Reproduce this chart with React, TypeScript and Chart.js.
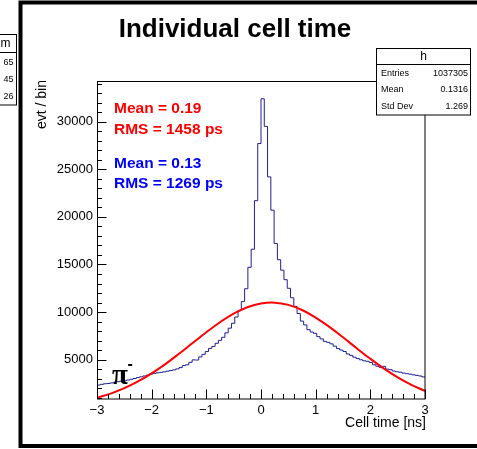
import React, { useEffect, useRef } from 'react';
import { Chart, registerables } from 'chart.js';

Chart.register(...registerables);

// ---- data ----
const binLow = -3;
const binWidth = 0.06;
const histCounts = [
  2330, 2410, 2470, 2500, 2560, 2630, 2690, 2740, 2790, 2860,
  2940, 3020, 3120, 3200, 3290, 3380, 3480, 3560, 3620, 3660,
  3720, 3790, 3860, 3930, 4030, 4170, 4380, 4460, 4720, 4980,
  4960, 5290, 5560, 5850, 6180, 6390, 6720, 7030, 7350, 7820,
  8310, 8820, 9480, 10150, 11100, 12450, 14700, 16600, 21700, 27700,
  32400, 29500, 24200, 20700, 17200, 15500, 14400, 13400, 12500, 11500,
  10600, 9850, 9050, 8650, 8150, 7900, 7760, 7420, 7180, 6920,
  6820, 6660, 6420, 6170, 6010, 5860, 5600, 5450, 5260, 5120,
  4990, 4880, 4830, 4710, 4460, 4310, 4190, 4300, 4010, 3950,
  3810, 3730, 3680, 3590, 3530, 3480, 3410, 3350, 3290, 3190,
];
const fitX = [
  -3, -2.75, -2.5, -2.25, -2, -1.75, -1.5, -1.25, -1, -0.75, -0.5, -0.25,
  0, 0.25, 0.5, 0.75, 1, 1.25, 1.5, 1.75, 2, 2.25, 2.5, 2.75, 3,
];
const fitY = [
  1004, 1440, 2005, 2711, 3561, 4539, 5619, 6754, 7884, 8935, 9834, 10511,
  10907, 10991, 10754, 10218, 9427, 8446, 7347, 6206, 5091, 4055, 3135, 2355, 1717,
];
const xTicks = [-3, -2, -1, 0, 1, 2, 3];
const yTicks = [5000, 10000, 15000, 20000, 25000, 30000];
const xRange = [-3, 3];
const yRange = [870, 34270];
const xMinorStep = 0.2;
const yMinorStep = 1000;
const titleText = 'Individual cell time';
const xTitle = 'Cell time [ns]';
const yTitle = 'evt / bin';
const statsName = 'h';
const statsLabels = ['Entries', 'Mean', 'Std Dev'];
const statsValues = ['1037305', '0.1316', '1.269'];
const redLines = ['Mean = 0.19', 'RMS = 1458 ps'];
const blueLines = ['Mean = 0.13', 'RMS = 1269 ps'];
const sideHeader = 'm';
const sideValues = ['65', '45', '26'];

const SANS = '"Liberation Sans", Arial, Helvetica, sans-serif';

const decor = {
  id: 'decor',
  afterDraw(chart: any) {
    const { ctx, chartArea: a, scales } = chart;
    const x = scales.x;
    const y = scales.y;
    ctx.save();

    // outer thick pad frame
    ctx.strokeStyle = '#000';
    ctx.lineWidth = 4;
    ctx.strokeRect(20.5, 2.5, 480, 443.5);

    // left neighbouring stats box (cut)
    ctx.lineWidth = 1;
    ctx.fillStyle = '#fff';
    ctx.fillRect(-5, 34.5, 21.5, 70.5);
    ctx.strokeRect(-5, 34.5, 21.5, 70.5);
    ctx.beginPath();
    ctx.moveTo(-5, 52.5);
    ctx.lineTo(16.5, 52.5);
    ctx.stroke();
    ctx.fillStyle = '#000';
    ctx.textBaseline = 'middle';
    ctx.textAlign = 'right';
    ctx.font = `12px ${SANS}`;
    ctx.fillText(sideHeader, 10.5, 43.5);
    ctx.font = `9px ${SANS}`;
    sideValues.forEach((s, i) => ctx.fillText(s, 13.5, 63 + i * 16.8));

    // plot frame
    ctx.lineWidth = 1;
    ctx.strokeStyle = '#000';
    ctx.strokeRect(Math.round(a.left) + 0.5, Math.round(a.top) + 0.5,
      Math.round(a.right - a.left) - 0.5, Math.round(a.bottom - a.top) - 0.5);

    // ticks (ROOT style, inside)
    ctx.beginPath();
    const nx = Math.round((xRange[1] - xRange[0]) / xMinorStep);
    for (let k = 0; k <= nx; k++) {
      const v = xRange[0] + k * xMinorStep;
      const px = Math.round(x.getPixelForValue(v)) + 0.5;
      const major = Math.abs(v - Math.round(v)) < 1e-6;
      const len = major ? 9.5 : 5;
      ctx.moveTo(px, a.bottom);
      ctx.lineTo(px, a.bottom - len);
    }
    for (let v = yMinorStep; v <= yRange[1]; v += yMinorStep) {
      if (v < yRange[0]) continue;
      const py = Math.round(y.getPixelForValue(v)) + 0.5;
      const major = v % 5000 === 0;
      const len = major ? 9.5 : 5;
      ctx.moveTo(a.left, py);
      ctx.lineTo(a.left + len, py);
    }
    ctx.stroke();

    // title
    ctx.fillStyle = '#000';
    ctx.textAlign = 'center';
    ctx.textBaseline = 'alphabetic';
    ctx.font = `bold 26px ${SANS}`;
    ctx.fillText(titleText, 235, 37);

    // axis titles
    ctx.font = `14px ${SANS}`;
    ctx.textAlign = 'right';
    ctx.fillText(xTitle, 426, 427);
    ctx.save();
    ctx.translate(46, 80);
    ctx.rotate(-Math.PI / 2);
    ctx.textAlign = 'right';
    ctx.fillText(yTitle, 0, 0);
    ctx.restore();

    // annotations
    ctx.textAlign = 'left';
    ctx.font = `bold 15.5px ${SANS}`;
    ctx.fillStyle = '#ff0000';
    ctx.fillText(redLines[0], 114, 113);
    ctx.fillText(redLines[1], 114, 133.5);
    ctx.fillStyle = '#0000ff';
    ctx.fillText(blueLines[0], 114, 168);
    ctx.fillText(blueLines[1], 114, 187.5);

    // pi-
    ctx.fillStyle = '#000';
    ctx.font = `bold 29px "Liberation Serif", "DejaVu Serif", serif`;
    ctx.fillText('\u03c0', 112, 384);
    ctx.font = `bold 16px ${SANS}`;
    ctx.fillText('-', 127.5, 368.5);

    // stats box
    const bx = 376.5, by = 48.5, bw = 94, bh = 66.5;
    ctx.fillStyle = '#fff';
    ctx.fillRect(bx, by, bw, bh);
    ctx.strokeStyle = '#000';
    ctx.lineWidth = 1;
    ctx.strokeRect(bx, by, bw, bh);
    ctx.beginPath();
    ctx.moveTo(bx, 64.5);
    ctx.lineTo(bx + bw, 64.5);
    ctx.stroke();
    ctx.fillStyle = '#000';
    ctx.textBaseline = 'middle';
    ctx.textAlign = 'center';
    ctx.font = `12px ${SANS}`;
    ctx.fillText(statsName, bx + bw / 2, 56.5);
    ctx.font = `9px ${SANS}`;
    statsLabels.forEach((lab, i) => {
      const yy = 73.3 + i * 16.5;
      ctx.textAlign = 'left';
      ctx.fillText(lab, 381, yy);
      ctx.textAlign = 'right';
      ctx.fillText(statsValues[i], 468, yy);
    });

    ctx.restore();
  },
};

const fmt = (v: number) => (v < 0 ? '\u2212' + Math.abs(v) : String(v));

export default function App() {
  const ref = useRef<HTMLCanvasElement | null>(null);

  useEffect(() => {
    if (!ref.current) return;
    const histPoints = histCounts.map((c, i) => ({ x: binLow + i * binWidth, y: c }));
    histPoints.push({ x: binLow + histCounts.length * binWidth, y: histCounts[histCounts.length - 1] });
    const fitPoints = fitX.map((v, i) => ({ x: v, y: fitY[i] }));

    const chart = new Chart(ref.current, {
      type: 'line',
      data: {
        datasets: [
          {
            data: fitPoints,
            borderColor: '#ff0000',
            borderWidth: 2,
            pointRadius: 0,
            tension: 0.4,
            fill: false,
            order: 0,
          },
          {
            data: histPoints,
            borderColor: '#1f1f96',
            borderWidth: 1,
            pointRadius: 0,
            stepped: true,
            fill: false,
            order: 1,
          },
        ],
      },
      options: {
        responsive: false,
        animation: false,
        events: [],
        layout: { padding: { top: 81, right: 52, left: 0, bottom: 0 } },
        plugins: { legend: { display: false }, tooltip: { enabled: false }, title: { display: false } },
        scales: {
          x: {
            type: 'linear',
            min: xRange[0],
            max: xRange[1],
            grid: { display: false, drawTicks: false },
            border: { display: false },
            ticks: {
              color: '#000',
              font: { family: SANS, size: 13 },
              padding: 4,
              maxRotation: 0,
              autoSkip: false,
              callback: (v: any) => fmt(Number(v)),
            },
            afterBuildTicks: (s: any) => { s.ticks = xTicks.map((v) => ({ value: v })); },
            afterFit: (s: any) => { s.height = 50; },
          },
          y: {
            type: 'linear',
            min: yRange[0],
            max: yRange[1],
            grid: { display: false, drawTicks: false },
            border: { display: false },
            ticks: {
              color: '#000',
              font: { family: SANS, size: 13 },
              padding: 4,
              autoSkip: false,
              callback: (v: any) => String(v),
            },
            afterBuildTicks: (s: any) => { s.ticks = yTicks.map((v) => ({ value: v })); },
            afterFit: (s: any) => { s.width = 97; },
          },
        },
      },
      plugins: [decor],
    });
    return () => chart.destroy();
  }, []);

  return (
    <div style={{ position: 'absolute', left: 0, top: 0, width: 477, height: 449, background: '#fff' }}>
      <canvas ref={ref} width={477} height={449} style={{ display: 'block' }} />
    </div>
  );
}
